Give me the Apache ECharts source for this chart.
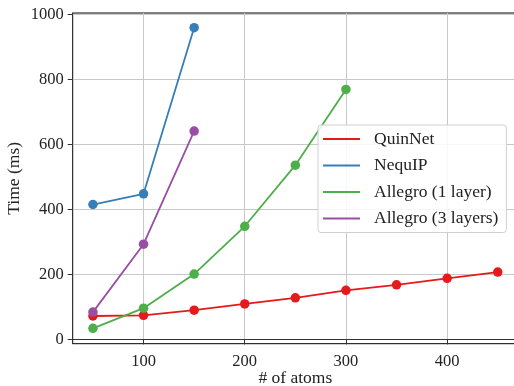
<!DOCTYPE html>
<html>
<head>
<meta charset="utf-8">
<script src="https://cdn.jsdelivr.net/npm/echarts@6/dist/echarts.min.js"></script>
<style>html,body{margin:0;padding:0;background:#fff;}#c{width:514px;height:386px;}</style>
</head>
<body>
<div id="c"></div>
<script>
const xQuinNet = [50, 100, 150, 200, 250, 300, 350, 400, 450];
const yQuinNet = [72, 74, 90, 109, 128, 151, 168, 188, 207];
const xNequIP = [50, 100, 150];
const yNequIP = [415, 448, 959];
const xAllegro1 = [50, 100, 150, 200, 250, 300];
const yAllegro1 = [34, 96, 201, 348, 536, 769];
const xAllegro3 = [50, 100, 150];
const yAllegro3 = [84, 293, 641];
const xTicks = [100, 200, 300, 400];
const yTicks = [0, 200, 400, 600, 800, 1000];
const seriesNames = ['QuinNet', 'NequIP', 'Allegro (1 layer)', 'Allegro (3 layers)'];
const colors = ['#e41a1c', '#377eb8', '#4daf4a', '#984ea3'];

const xs = [xQuinNet, xNequIP, xAllegro1, xAllegro3];
const ys = [yQuinNet, yNequIP, yAllegro1, yAllegro3];
const font = '"Liberation Serif", "DejaVu Serif", serif';

const chart = echarts.init(document.getElementById('c'));
chart.setOption({
  animation: false,
  backgroundColor: '#fff',
  grid: { left: 72.7, top: 13, right: -4, bottom: 42.3, show: true, borderColor: '#000', borderWidth: 1, containLabel: false, outerBoundsMode: 'none' },
  xAxis: {
    type: 'value', min: 30, max: 470,
    name: '# of atoms', nameLocation: 'middle', nameGap: 26, nameMoveOverlap: false,
    nameTextStyle: { fontFamily: font, fontSize: 17.5, color: '#222' },
    axisLine: { show: true, lineStyle: { color: '#333', width: 1 } },
    axisTick: { show: true, length: 5, customValues: xTicks, lineStyle: { color: '#333' } },
    axisLabel: { customValues: xTicks, margin: 9, fontFamily: font, fontSize: 16.5, color: '#222', formatter: v => String(v) },
    splitLine: { show: true, lineStyle: { color: '#c8c8c8', width: 1 } }
  },
  yAxis: {
    type: 'value', min: -13.25, max: 1004.25,
    name: 'Time (ms)', nameLocation: 'middle', nameGap: 49, nameMoveOverlap: false,
    nameTextStyle: { fontFamily: font, fontSize: 17.5, color: '#222' },
    axisLine: { show: true, lineStyle: { color: '#333', width: 1 } },
    axisTick: { show: true, length: 5, customValues: yTicks, lineStyle: { color: '#333' } },
    axisLabel: { customValues: yTicks, margin: 9, fontFamily: font, fontSize: 16.5, color: '#222', formatter: v => String(v) },
    splitLine: { show: true, lineStyle: { color: '#c8c8c8', width: 1 } }
  },
  legend: {
    orient: 'vertical', left: 318, top: 125,
    backgroundColor: 'rgba(255,255,255,0.85)', borderColor: '#d0d0d0', borderWidth: 1, borderRadius: 3,
    padding: [5, 8, 5, 5],
    itemWidth: 37, itemHeight: 2, itemGap: 8.5,
    icon: 'rect',
    textStyle: { fontFamily: font, fontSize: 17.5, color: '#222', lineHeight: 17, padding: [0, 0, 0, 9] },
    data: seriesNames
  },
  series: seriesNames.map((n, i) => ({
    name: n, type: 'line',
    data: xs[i].map((x, j) => [x, ys[i][j]]),
    symbol: 'circle', symbolSize: 9.5,
    lineStyle: { color: colors[i], width: 1.8 },
    itemStyle: { color: colors[i] },
    color: colors[i]
  }))
});
</script>
</body>
</html>
